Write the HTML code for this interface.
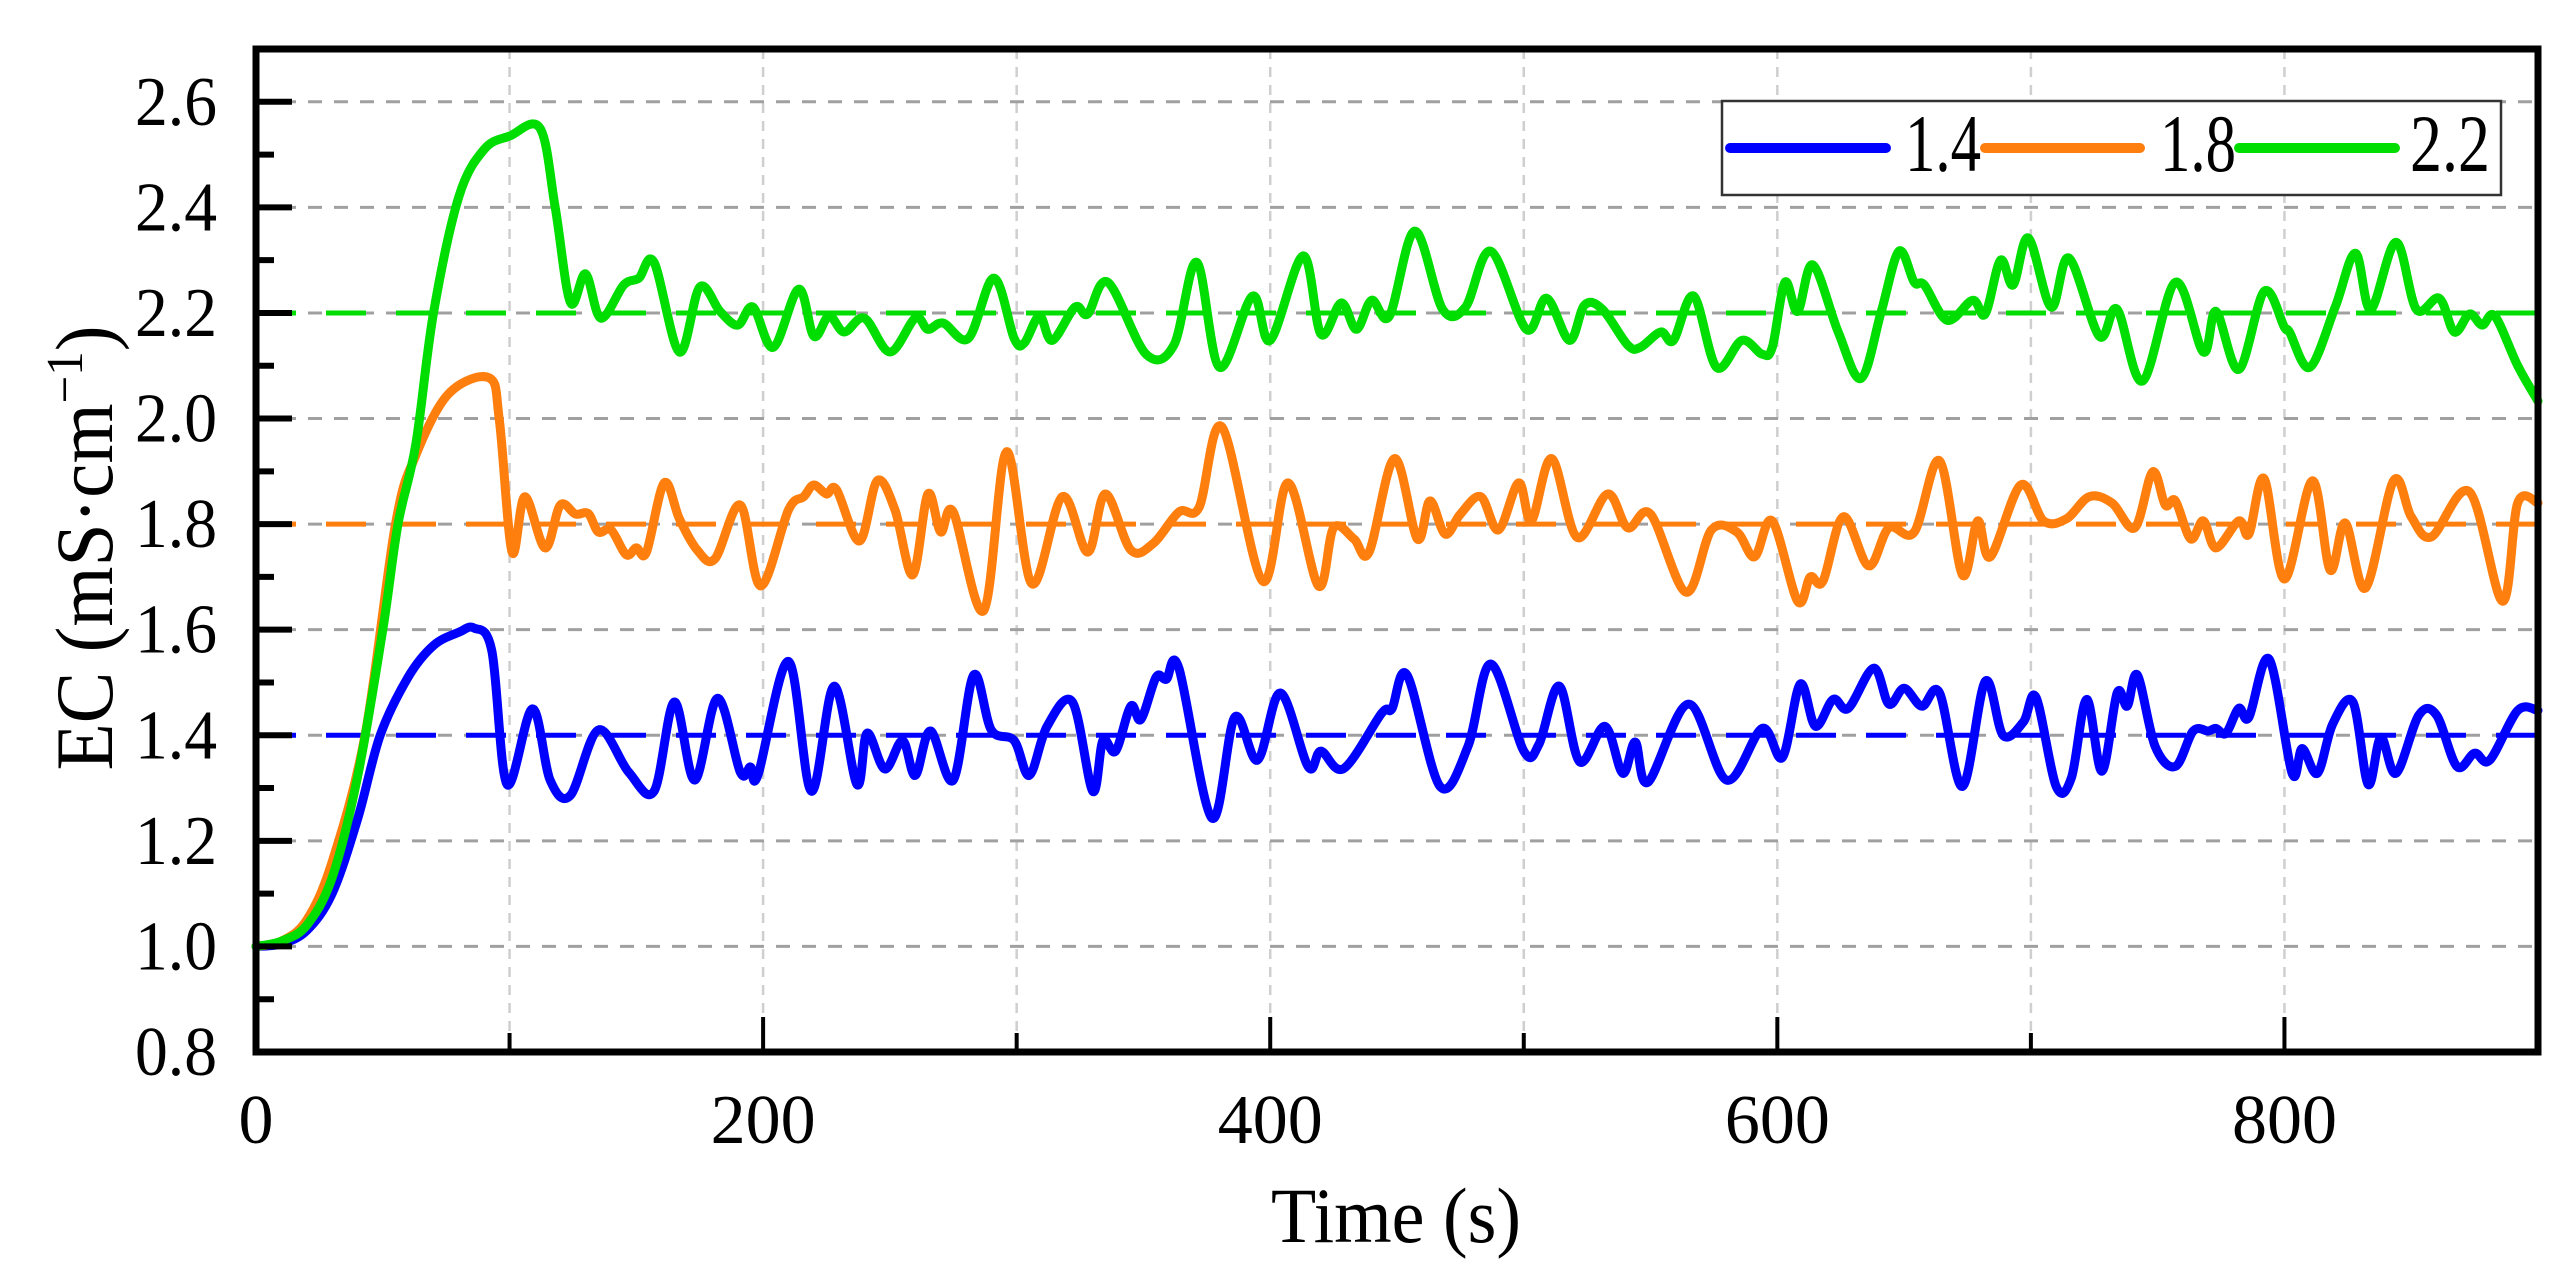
<!DOCTYPE html>
<html><head><meta charset="utf-8"><style>
html,body{margin:0;padding:0;background:#fff;}
svg{display:block;font-family:"Liberation Serif",serif;}
</style></head><body>
<svg id="chart" width="2571" height="1279" viewBox="0 0 2571 1279" xmlns="http://www.w3.org/2000/svg">
<g id="grid"></g>
<g id="refs"></g>
<g id="series"></g>
<g id="axes"></g>
<text x="1396" y="1242" font-size="78" text-anchor="middle" textLength="250" lengthAdjust="spacingAndGlyphs">Time (s)</text>
<text transform="translate(112,548) rotate(-90)" font-size="82" text-anchor="middle" textLength="445" lengthAdjust="spacingAndGlyphs">EC (mS·cm<tspan dy="-30" font-size="52">−1</tspan><tspan dy="30">)</tspan></text>
<g>
<rect x="1722" y="101" width="779" height="94" fill="#fff" stroke="#333" stroke-width="2.5"/>
<line x1="1730" y1="148" x2="1886" y2="148" stroke="#0000ff" stroke-width="10" stroke-linecap="round"/>
<text x="1905" y="171" font-size="82" textLength="76" lengthAdjust="spacingAndGlyphs">1.4</text>
<line x1="1985" y1="148" x2="2140" y2="148" stroke="#ff7f0e" stroke-width="10" stroke-linecap="round"/>
<text x="2160" y="171" font-size="82" textLength="76" lengthAdjust="spacingAndGlyphs">1.8</text>
<line x1="2239" y1="148" x2="2395" y2="148" stroke="#00dd00" stroke-width="10" stroke-linecap="round"/>
<text x="2410" y="171" font-size="82" textLength="80" lengthAdjust="spacingAndGlyphs">2.2</text>
</g>
</svg>
<script>
const blueT=[0,10,20,30,40,49,60,70,80,86,93,99,109,116,124,135,147,157,165,173,182,191,195,198,210,219,228,237,241,248,255,260,266,275,283,290,299,305,312,322,330,334,339,345,349,355,359,364,377,386,395,404,415,420,429,444,448,454,467,478,487,500,506,514,522,532,539,544,549,565,580,594,602,609,615,622,628,638,644,650,657,664,673,682,689,697,702,710,716,722,728,734,738,742,749,757,764,770,773,777,782,786,794,803,807,813,819,827,833,838,844,853,860,868,875,881,892,900];
const blueV=[1.0,1.005,1.03,1.1,1.24,1.4,1.51,1.57,1.595,1.603,1.56,1.307,1.45,1.315,1.286,1.41,1.33,1.294,1.463,1.315,1.47,1.33,1.34,1.325,1.54,1.294,1.493,1.307,1.404,1.336,1.39,1.324,1.408,1.315,1.514,1.41,1.39,1.324,1.417,1.463,1.294,1.39,1.37,1.455,1.43,1.51,1.506,1.527,1.243,1.434,1.353,1.48,1.34,1.37,1.337,1.442,1.45,1.514,1.303,1.379,1.535,1.37,1.383,1.493,1.35,1.417,1.328,1.387,1.311,1.459,1.315,1.413,1.358,1.497,1.417,1.468,1.451,1.527,1.459,1.489,1.455,1.48,1.303,1.502,1.4,1.425,1.472,1.303,1.32,1.468,1.332,1.48,1.455,1.514,1.379,1.341,1.408,1.408,1.413,1.404,1.451,1.434,1.544,1.328,1.375,1.328,1.421,1.463,1.307,1.396,1.328,1.438,1.438,1.341,1.366,1.353,1.447,1.447];
const orangeT=[0,10,20,30,43,55,63,76,92,96,101,106,114,120,126,131,135,140,146,150,154,161,167,174,181,191,199,210,216,220,225,229,238,245,252,259,265,270,275,287,296,306,318,328,335,345,354,364,372,381,397,407,419,425,433,439,449,458,463,469,475,483,490,498,503,511,521,533,541,550,564,574,584,591,598,608,613,618,626,636,644,654,664,673,679,684,696,705,714,723,732,741,748,753,757,763,768,773,782,786,792,800,811,818,824,832,843,850,858,873,886,892,900];
const orangeV=[1.0,1.01,1.05,1.16,1.4,1.8,1.93,2.047,2.077,1.996,1.747,1.852,1.755,1.836,1.819,1.82,1.785,1.789,1.742,1.755,1.747,1.878,1.81,1.751,1.734,1.836,1.683,1.827,1.852,1.874,1.857,1.865,1.768,1.882,1.827,1.704,1.857,1.785,1.823,1.636,1.937,1.687,1.852,1.747,1.857,1.751,1.764,1.823,1.832,1.984,1.692,1.878,1.683,1.793,1.772,1.747,1.924,1.772,1.844,1.781,1.819,1.852,1.789,1.878,1.806,1.924,1.775,1.857,1.793,1.819,1.671,1.789,1.785,1.738,1.806,1.654,1.7,1.692,1.814,1.721,1.793,1.785,1.92,1.704,1.806,1.738,1.874,1.806,1.81,1.852,1.84,1.793,1.899,1.836,1.844,1.772,1.806,1.755,1.806,1.781,1.886,1.696,1.882,1.713,1.802,1.679,1.882,1.814,1.776,1.861,1.654,1.84,1.84];
const greenT=[0,10,20,30,40,50,56,63,70,80,90,100,112,118,124,130,136,145,151,157,167,175,183,190,196,204,214,220,226,232,240,250,260,265,271,281,291,299,303,309,314,323,328,336,351,362,371,380,393,400,413,420,428,434,440,447,457,468,477,487,501,509,518,524,531,541,546,554,559,567,576,586,594,598,603,608,614,624,633,641,648,654,658,667,677,682,688,693,699,708,715,727,734,744,757,768,773,782,792,800,802,810,820,828,834,844,852,861,867,873,878,883,892,900];
const greenV=[1.0,1.01,1.04,1.13,1.32,1.6,1.8,1.95,2.2,2.42,2.51,2.535,2.55,2.4,2.22,2.274,2.19,2.253,2.266,2.296,2.126,2.249,2.203,2.177,2.211,2.135,2.245,2.156,2.194,2.164,2.19,2.126,2.19,2.169,2.181,2.152,2.266,2.152,2.143,2.194,2.148,2.211,2.198,2.258,2.122,2.139,2.296,2.097,2.232,2.148,2.308,2.16,2.219,2.169,2.224,2.194,2.355,2.207,2.211,2.317,2.169,2.228,2.148,2.215,2.207,2.139,2.135,2.164,2.148,2.232,2.097,2.148,2.122,2.135,2.258,2.203,2.291,2.164,2.076,2.203,2.317,2.258,2.253,2.186,2.224,2.198,2.3,2.253,2.342,2.211,2.304,2.156,2.207,2.071,2.258,2.126,2.203,2.093,2.241,2.173,2.164,2.097,2.211,2.313,2.207,2.334,2.207,2.228,2.164,2.198,2.177,2.194,2.1,2.033];
const refValues=[1.4,1.8,2.2];
const yTicks=[0.8,1.0,1.2,1.4,1.6,1.8,2.0,2.2,2.4,2.6];
const yTickLabels=["0.8","1.0","1.2","1.4","1.6","1.8","2.0","2.2","2.4","2.6"];
const xTicks=[0,200,400,600,800];
const xTickLabels=["0","200","400","600","800"];

const L=256,R=2538,T=49,B=1052,XMAX=900,YMIN=0.8,YMAX=2.7;
const NS="http://www.w3.org/2000/svg";
function sx(t){return L+(t/XMAX)*(R-L);}
function sy(v){return B-(v-YMIN)/(YMAX-YMIN)*(B-T);}
function mk(tag,attrs,parent){const e=document.createElementNS(NS,tag);for(const k in attrs)e.setAttribute(k,attrs[k]);parent.appendChild(e);return e;}
const grid=document.getElementById('grid'),refs=document.getElementById('refs'),ser=document.getElementById('series'),axes=document.getElementById('axes');
for(let t=100;t<XMAX;t+=100){const l=mk('line',{x1:sx(t),x2:sx(t),y1:T,y2:B,stroke:'#cfcfcf','stroke-width':2.5,'stroke-dasharray':'10 8'},grid);

}
yTicks.forEach(v=>{if(v<=YMIN)return;const l=mk('line',{x1:L,x2:R,y1:sy(v),y2:sy(v),stroke:'#a0a0a0','stroke-width':3,'stroke-dasharray':'14 12'},grid);

});
const cols=['#0000ff','#ff7f0e','#00dd00'];
refValues.forEach((v,i)=>{const l=mk('line',{x1:L,x2:R,y1:sy(v),y2:sy(v),stroke:cols[i],'stroke-width':5,'stroke-dasharray':'40 30'},refs);

});
function smooth(T_,V_){const p=T_.map((t,i)=>[sx(t),sy(V_[i])]);let d='M'+p[0][0]+','+p[0][1];
for(let i=0;i<p.length-1;i++){const p0=p[i-1]||p[i],p1=p[i],p2=p[i+1],p3=p[i+2]||p2;
const c1=[p1[0]+(p2[0]-p0[0])/6,p1[1]+(p2[1]-p0[1])/6],c2=[p2[0]-(p3[0]-p1[0])/6,p2[1]-(p3[1]-p1[1])/6];
d+=' C'+c1[0].toFixed(1)+','+c1[1].toFixed(1)+' '+c2[0].toFixed(1)+','+c2[1].toFixed(1)+' '+p2[0].toFixed(1)+','+p2[1].toFixed(1);}return d;}
[[blueT,blueV,'series-1.4'],[orangeT,orangeV,'series-1.8'],[greenT,greenV,'series-2.2']].forEach((s,i)=>{
const p=mk('path',{d:smooth(s[0],s[1]),fill:'none',stroke:cols[i],'stroke-width':9,'stroke-linejoin':'round','stroke-linecap':'round'},ser);

});
const fr=mk('rect',{x:L,y:T,width:R-L,height:B-T,fill:'none',stroke:'#000','stroke-width':7},axes);


yTicks.forEach((v,i)=>{const t=mk('line',{x1:L,x2:L+36,y1:sy(v),y2:sy(v),stroke:'#000','stroke-width':6},axes);


if(i<yTicks.length-1){const m=mk('line',{x1:L,x2:L+18,y1:sy(v+0.1),y2:sy(v+0.1),stroke:'#000','stroke-width':6},axes);

}
const tx=mk('text',{x:217,y:sy(v)+23,'font-size':70,'text-anchor':'end',textLength:82,lengthAdjust:'spacingAndGlyphs'},axes);tx.textContent=yTickLabels[i];

});
for(let t=100;t<XMAX;t+=200){const m=mk('line',{x1:sx(t),x2:sx(t),y1:B,y2:B-19,stroke:'#000','stroke-width':4},axes);

}
xTicks.forEach((t,i)=>{const k=mk('line',{x1:sx(t),x2:sx(t),y1:B,y2:B-35,stroke:'#000','stroke-width':4},axes);


const tx=mk('text',{x:sx(t),y:1143,'font-size':70,'text-anchor':'middle'},axes);tx.textContent=xTickLabels[i];

});
</script>
</body></html>
